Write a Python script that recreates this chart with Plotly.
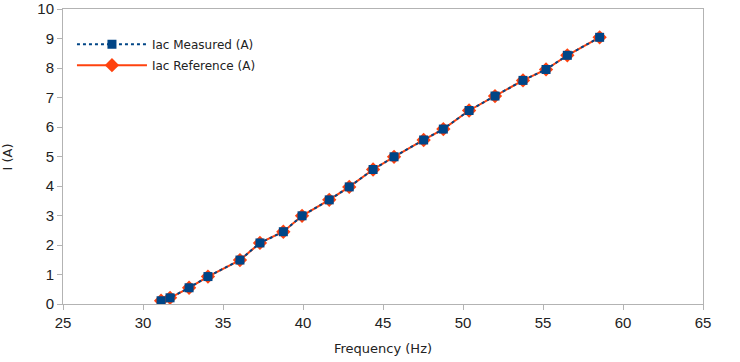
import plotly.graph_objects as go

freq_hz = [31.13, 31.69, 32.88, 34.06, 36.06, 37.31, 38.77, 39.94, 41.64, 42.89,
           44.38, 45.69, 47.54, 48.77, 50.38, 52.0, 53.75, 55.19, 56.52, 58.54]
iac_measured = [0.11, 0.21, 0.55, 0.93, 1.49, 2.07, 2.45, 2.99, 3.53, 3.97,
                4.56, 4.99, 5.56, 5.93, 6.56, 7.05, 7.58, 7.95, 8.43, 9.04]
iac_reference = [0.11, 0.21, 0.55, 0.93, 1.49, 2.07, 2.45, 2.99, 3.53, 3.97,
                 4.56, 4.99, 5.56, 5.93, 6.56, 7.05, 7.58, 7.95, 8.43, 9.04]
x_ticks = [25, 30, 35, 40, 45, 50, 55, 60, 65]
y_ticks = [0, 1, 2, 3, 4, 5, 6, 7, 8, 9, 10]

fig = go.Figure()
fig.add_trace(go.Scatter(
    x=freq_hz, y=iac_reference, name="Iac Reference (A)", mode="lines+markers",
    line=dict(color="#ff420e", width=2),
    marker=dict(symbol="diamond", size=11, color="#ff420e"),
    legendrank=2, legendgroup="ref",
))
fig.add_trace(go.Scatter(
    x=freq_hz, y=iac_measured, name="Iac Measured (A)", mode="lines+markers",
    line=dict(color="#004586", width=2, dash="dot"),
    marker=dict(symbol="square", size=9, color="#004586"),
    legendrank=1, legendgroup="meas",
))

axis_common = dict(
    showline=True, linecolor="#b3b3b3", linewidth=1, mirror=True,
    ticks="outside", ticklen=5, tickcolor="#b3b3b3", tickwidth=1,
    showgrid=False, zeroline=False, automargin=False,
    tickfont=dict(family="Liberation Sans", size=15, color="#222222"),
)

title_font = dict(family="DejaVu Sans", size=13, color="#222222")

fig.update_layout(
    width=740, height=362,
    margin=dict(l=63, r=37, t=9, b=58, autoexpand=False),
    paper_bgcolor="white", plot_bgcolor="white",
    xaxis=dict(range=[25, 65], tickvals=x_ticks, **axis_common),
    yaxis=dict(range=[0, 10], tickvals=y_ticks, **axis_common),
    legend=dict(x=0.014, y=0.93, xanchor="left", yanchor="top",
                bgcolor="rgba(0,0,0,0)", itemwidth=70, tracegroupgap=2,
                font=dict(family="DejaVu Sans", size=12, color="#222222")),
    showlegend=True,
    annotations=[
        dict(text="Frequency (Hz)", x=0.5, y=-0.12, xref="paper", yref="paper",
             xanchor="center", yanchor="top", showarrow=False, font=title_font),
        dict(text="I (A)", x=-0.086, y=0.5, xref="paper", yref="paper",
             xanchor="center", yanchor="middle", textangle=-90, showarrow=False,
             font=title_font),
    ],
)

fig.write_html("out.html", config={"displayModeBar": False},
               post_script="document.body.style.margin='0px';document.body.style.overflow='hidden';")
